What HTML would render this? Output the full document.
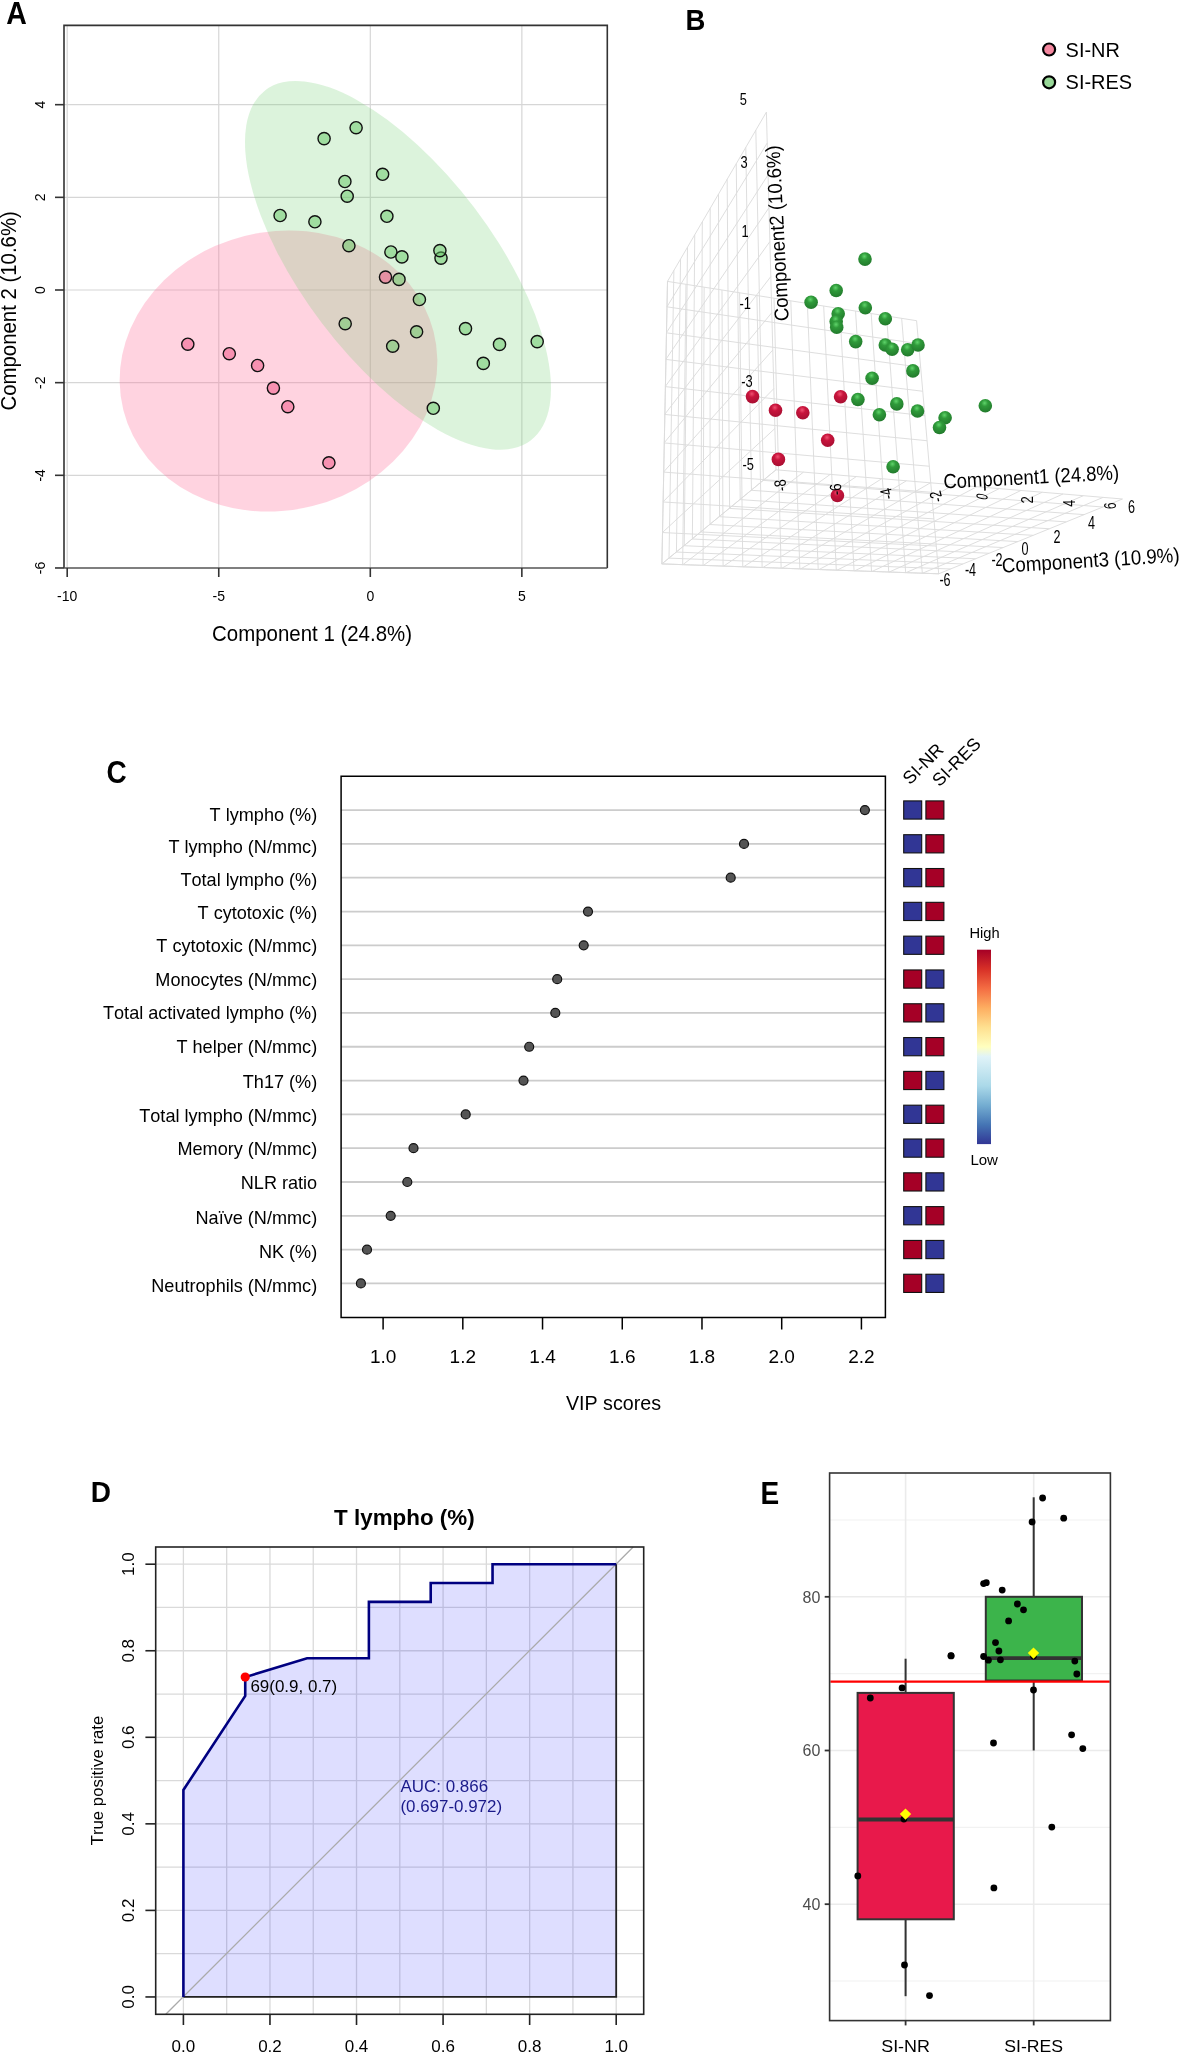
<!DOCTYPE html>
<html><head><meta charset="utf-8"><style>
html,body{margin:0;padding:0;background:#fff;overflow:hidden}
svg{display:block;will-change:transform}
text{font-family:"Liberation Sans", sans-serif;font-kerning:none;font-feature-settings:"kern" 0, "liga" 0}
</style></head><body>
<svg width="1181" height="2053" viewBox="0 0 1181 2053">
<rect width="1181" height="2053" fill="#fff"/>
<text font-size="28.5" font-weight="bold" transform="translate(6.3 24.1) scale(1 1.1)">A</text>
<path d="M67.2 25.4V568M218.75 25.4V568M370.3 25.4V568M521.85 25.4V568M64 104.68H607.3M64 197.34H607.3M64 290H607.3M64 382.66H607.3M64 475.32H607.3" stroke="#d6d6d6" stroke-width="1.2" fill="none"/>
<ellipse cx="278.5" cy="371" rx="160" ry="139.3" transform="rotate(-14.1 278.5 371)" fill="rgb(255,120,160)" fill-opacity="0.33"/>
<ellipse cx="398" cy="265.3" rx="219.7" ry="95.6" transform="rotate(52.85 398 265.3)" fill="rgb(120,210,120)" fill-opacity="0.26"/>
<path d="M64 568V25.4H607.3V568" stroke="#333" stroke-width="1.6" fill="none"/>
<line x1="64" y1="568" x2="607.3" y2="568" stroke="#555" stroke-width="1.6" />
<line x1="55" y1="104.68" x2="64" y2="104.68" stroke="#333" stroke-width="1.6" />
<text x="45.4" y="104.68" font-size="14" text-anchor="middle" transform="rotate(-90 45.4 104.68)" >4</text>
<line x1="55" y1="197.34" x2="64" y2="197.34" stroke="#333" stroke-width="1.6" />
<text x="45.4" y="197.34" font-size="14" text-anchor="middle" transform="rotate(-90 45.4 197.34)" >2</text>
<line x1="55" y1="290" x2="64" y2="290" stroke="#333" stroke-width="1.6" />
<text x="45.4" y="290" font-size="14" text-anchor="middle" transform="rotate(-90 45.4 290)" >0</text>
<line x1="55" y1="382.66" x2="64" y2="382.66" stroke="#333" stroke-width="1.6" />
<text x="45.4" y="382.66" font-size="14" text-anchor="middle" transform="rotate(-90 45.4 382.66)" >-2</text>
<line x1="55" y1="475.32" x2="64" y2="475.32" stroke="#333" stroke-width="1.6" />
<text x="45.4" y="475.32" font-size="14" text-anchor="middle" transform="rotate(-90 45.4 475.32)" >-4</text>
<line x1="55" y1="567.98" x2="64" y2="567.98" stroke="#333" stroke-width="1.6" />
<text x="45.4" y="567.98" font-size="14" text-anchor="middle" transform="rotate(-90 45.4 567.98)" >-6</text>
<line x1="67.2" y1="568" x2="67.2" y2="577" stroke="#333" stroke-width="1.6" />
<text x="67.2" y="600.7" font-size="14" text-anchor="middle" >-10</text>
<line x1="218.75" y1="568" x2="218.75" y2="577" stroke="#333" stroke-width="1.6" />
<text x="218.75" y="600.7" font-size="14" text-anchor="middle" >-5</text>
<line x1="370.3" y1="568" x2="370.3" y2="577" stroke="#333" stroke-width="1.6" />
<text x="370.3" y="600.7" font-size="14" text-anchor="middle" >0</text>
<line x1="521.85" y1="568" x2="521.85" y2="577" stroke="#333" stroke-width="1.6" />
<text x="521.85" y="600.7" font-size="14" text-anchor="middle" >5</text>
<circle cx="356.1" cy="127.7" r="6.1" fill="rgb(100,200,100)" fill-opacity="0.5" stroke="#111" stroke-width="1.4"/>
<circle cx="324.1" cy="138.6" r="6.1" fill="rgb(100,200,100)" fill-opacity="0.5" stroke="#111" stroke-width="1.4"/>
<circle cx="382.6" cy="174.3" r="6.1" fill="rgb(100,200,100)" fill-opacity="0.5" stroke="#111" stroke-width="1.4"/>
<circle cx="344.9" cy="181.5" r="6.1" fill="rgb(100,200,100)" fill-opacity="0.5" stroke="#111" stroke-width="1.4"/>
<circle cx="347.2" cy="196.2" r="6.1" fill="rgb(100,200,100)" fill-opacity="0.5" stroke="#111" stroke-width="1.4"/>
<circle cx="280.1" cy="215.5" r="6.1" fill="rgb(100,200,100)" fill-opacity="0.5" stroke="#111" stroke-width="1.4"/>
<circle cx="314.9" cy="221.8" r="6.1" fill="rgb(100,200,100)" fill-opacity="0.5" stroke="#111" stroke-width="1.4"/>
<circle cx="386.9" cy="216.3" r="6.1" fill="rgb(100,200,100)" fill-opacity="0.5" stroke="#111" stroke-width="1.4"/>
<circle cx="348.9" cy="245.7" r="6.1" fill="rgb(100,200,100)" fill-opacity="0.5" stroke="#111" stroke-width="1.4"/>
<circle cx="390.9" cy="252" r="6.1" fill="rgb(100,200,100)" fill-opacity="0.5" stroke="#111" stroke-width="1.4"/>
<circle cx="401.9" cy="256.9" r="6.1" fill="rgb(100,200,100)" fill-opacity="0.5" stroke="#111" stroke-width="1.4"/>
<circle cx="441" cy="258.1" r="6.1" fill="rgb(100,200,100)" fill-opacity="0.5" stroke="#111" stroke-width="1.4"/>
<circle cx="439.9" cy="250.6" r="6.1" fill="rgb(100,200,100)" fill-opacity="0.5" stroke="#111" stroke-width="1.4"/>
<circle cx="399" cy="279.4" r="6.1" fill="rgb(100,200,100)" fill-opacity="0.5" stroke="#111" stroke-width="1.4"/>
<circle cx="419.4" cy="299.5" r="6.1" fill="rgb(100,200,100)" fill-opacity="0.5" stroke="#111" stroke-width="1.4"/>
<circle cx="345.2" cy="323.7" r="6.1" fill="rgb(100,200,100)" fill-opacity="0.5" stroke="#111" stroke-width="1.4"/>
<circle cx="416.6" cy="331.8" r="6.1" fill="rgb(100,200,100)" fill-opacity="0.5" stroke="#111" stroke-width="1.4"/>
<circle cx="465.5" cy="328.6" r="6.1" fill="rgb(100,200,100)" fill-opacity="0.5" stroke="#111" stroke-width="1.4"/>
<circle cx="392.7" cy="346.2" r="6.1" fill="rgb(100,200,100)" fill-opacity="0.5" stroke="#111" stroke-width="1.4"/>
<circle cx="499.5" cy="344.4" r="6.1" fill="rgb(100,200,100)" fill-opacity="0.5" stroke="#111" stroke-width="1.4"/>
<circle cx="537.2" cy="341.6" r="6.1" fill="rgb(100,200,100)" fill-opacity="0.5" stroke="#111" stroke-width="1.4"/>
<circle cx="483.3" cy="363.4" r="6.1" fill="rgb(100,200,100)" fill-opacity="0.5" stroke="#111" stroke-width="1.4"/>
<circle cx="433.3" cy="408.3" r="6.1" fill="rgb(100,200,100)" fill-opacity="0.5" stroke="#111" stroke-width="1.4"/>
<circle cx="385.5" cy="277.1" r="6.1" fill="rgb(240,80,130)" fill-opacity="0.5" stroke="#111" stroke-width="1.4"/>
<circle cx="187.8" cy="344.2" r="6.1" fill="rgb(240,80,130)" fill-opacity="0.5" stroke="#111" stroke-width="1.4"/>
<circle cx="229.3" cy="353.7" r="6.1" fill="rgb(240,80,130)" fill-opacity="0.5" stroke="#111" stroke-width="1.4"/>
<circle cx="257.6" cy="365.5" r="6.1" fill="rgb(240,80,130)" fill-opacity="0.5" stroke="#111" stroke-width="1.4"/>
<circle cx="273.4" cy="388.1" r="6.1" fill="rgb(240,80,130)" fill-opacity="0.5" stroke="#111" stroke-width="1.4"/>
<circle cx="287.8" cy="406.7" r="6.1" fill="rgb(240,80,130)" fill-opacity="0.5" stroke="#111" stroke-width="1.4"/>
<circle cx="328.9" cy="462.8" r="6.1" fill="rgb(240,80,130)" fill-opacity="0.5" stroke="#111" stroke-width="1.4"/>
<text x="212.1" y="640.7" font-size="21.5" textLength="199.9" lengthAdjust="spacingAndGlyphs" >Component 1 (24.8%)</text>
<text x="15.5" y="410.5" font-size="21.5" textLength="199.3" lengthAdjust="spacingAndGlyphs" transform="rotate(-90 15.5 410.5)" >Component 2 (10.6%)</text>
<text font-size="27.5" font-weight="bold" transform="translate(685.6 29.5) scale(1 1.1)">B</text>
<path d="M661.9 563.9L667.5 281.4M669 558.05L673.89 270.46M676.43 551.92L680.55 259.06M684.22 545.49L687.49 247.18M692.39 538.75L694.73 234.78M700.99 531.67L702.3 221.83M710.03 524.21L710.21 208.29M719.55 516.36L718.48 194.12M729.6 508.07L727.16 179.28M740.21 499.31L736.25 163.71M751.45 490.05L745.8 147.37M763.36 480.23L755.83 130.19M776 469.8L766.4 112.1M661.9 563.9L776 469.8M662.52 532.45L774.89 428.5M663.13 501.78L773.82 388.6M663.72 471.87L772.79 350.02M664.3 442.68L771.78 312.7M664.87 414.19L770.81 276.58M665.42 386.37L769.88 241.61M665.96 359.21L768.97 207.72M666.48 332.67L768.08 174.87M667 306.74L767.23 143.01M667.5 281.4L766.4 112.1M661.9 563.9L667.5 281.4M682.66 564.64L685.96 284.31M703.06 565.37L704.13 287.18M723.09 566.09L722.01 290M742.78 566.79L739.61 292.78M762.13 567.48L756.94 295.51M781.15 568.16L774.01 298.2M799.84 568.83L790.82 300.86M818.22 569.49L807.37 303.47M836.29 570.14L823.68 306.04M854.07 570.77L839.74 308.57M871.55 571.4L855.56 311.07M888.75 572.01L871.16 313.53M905.67 572.62L886.53 315.96M922.32 573.21L901.67 318.34M938.7 573.8L916.6 320.7M661.9 563.9L938.7 573.8M662.52 532.56L936.28 546.04M663.13 501.97L933.9 518.88M663.72 472.1L931.58 492.28M664.3 442.94L929.31 466.24M664.86 414.45L927.08 440.74M665.41 386.62L924.9 415.75M665.95 359.42L922.76 391.27M666.48 332.83L920.67 367.28M667 306.83L918.61 343.76M667.5 281.4L916.6 320.7M661.9 563.9L776 469.8M682.89 564.65L803.49 472.12M703.47 565.39L830.25 474.37M723.66 566.11L856.3 476.57M743.46 566.82L881.66 478.7M762.88 567.51L906.38 480.79M781.94 568.19L930.47 482.82M800.65 568.86L953.95 484.8M819.02 569.52L976.84 486.73M837.05 570.16L999.18 488.61M854.76 570.8L1020.98 490.44M872.14 571.42L1042.25 492.24M889.23 572.03L1063.03 493.99M906.01 572.63L1083.31 495.7M922.5 573.22L1103.13 497.37M938.7 573.8L1122.5 499M661.9 563.9L938.7 573.8M668.91 558.12L950.52 568.99M676.26 552.06L962.85 563.97M683.98 545.69L975.7 558.74M692.1 538.99L989.13 553.28M700.65 531.94L1003.16 547.57M709.66 524.51L1017.84 541.59M719.18 516.66L1033.22 535.33M729.24 508.37L1049.34 528.77M739.89 499.58L1066.27 521.88M751.19 490.26L1084.06 514.64M763.21 480.35L1102.78 507.03M776 469.8L1122.5 499" stroke="#dcdcdc" stroke-width="0.95" fill="none"/>
<circle cx="1049.1" cy="49.5" r="6" fill="#f4879f" stroke="#000" stroke-width="2.2"/>
<circle cx="1049.1" cy="82.3" r="6" fill="#98d898" stroke="#000" stroke-width="2.2"/>
<text x="1065.6" y="56.9" font-size="20" textLength="54.3" lengthAdjust="spacingAndGlyphs" >SI-NR</text>
<text x="1065.6" y="88.9" font-size="20" textLength="66.5" lengthAdjust="spacingAndGlyphs" >SI-RES</text>
<text font-size="16.5" text-anchor="middle" transform="translate(743.2 98.7) scale(0.78 1)" y="5.9">5</text>
<text font-size="16.5" text-anchor="middle" transform="translate(744 162.4) scale(0.78 1)" y="5.9">3</text>
<text font-size="16.5" text-anchor="middle" transform="translate(745 231) scale(0.78 1)" y="5.9">1</text>
<text font-size="16.5" text-anchor="middle" transform="translate(745.2 303.2) scale(0.78 1)" y="5.9">-1</text>
<text font-size="16.5" text-anchor="middle" transform="translate(747 381.2) scale(0.78 1)" y="5.9">-3</text>
<text font-size="16.5" text-anchor="middle" transform="translate(748.2 464) scale(0.78 1)" y="5.9">-5</text>
<text font-size="18" text-anchor="middle" transform="translate(945 580) scale(0.7 1)" y="6.4">-6</text>
<text font-size="18" text-anchor="middle" transform="translate(970.5 570) scale(0.7 1)" y="6.4">-4</text>
<text font-size="18" text-anchor="middle" transform="translate(997 560) scale(0.7 1)" y="6.4">-2</text>
<text font-size="18" text-anchor="middle" transform="translate(1025 548.5) scale(0.7 1)" y="6.4">0</text>
<text font-size="18" text-anchor="middle" transform="translate(1057 537) scale(0.7 1)" y="6.4">2</text>
<text font-size="18" text-anchor="middle" transform="translate(1091.5 523) scale(0.7 1)" y="6.4">4</text>
<text font-size="18" text-anchor="middle" transform="translate(1131.4 507) scale(0.7 1)" y="6.4">6</text>
<text font-size="20" transform="translate(788.7 320.8) rotate(-93)" textLength="176" lengthAdjust="spacingAndGlyphs">Component2 (10.6%)</text>
<text font-size="20.5" transform="translate(943.7 488.6) rotate(-3)" textLength="176" lengthAdjust="spacingAndGlyphs">Component1 (24.8%)</text>
<text font-size="20.5" transform="translate(1002.3 572.7) rotate(-3.5)" textLength="178" lengthAdjust="spacingAndGlyphs">Component3 (10.9%)</text>
<defs><radialGradient id="sg" cx="0.45" cy="0.3" r="0.7"><stop offset="0" stop-color="#5fd46a"/><stop offset="0.35" stop-color="#2f9a3a"/><stop offset="1" stop-color="#227a2c"/></radialGradient><radialGradient id="sr" cx="0.45" cy="0.3" r="0.7"><stop offset="0" stop-color="#f05070"/><stop offset="0.35" stop-color="#c8143c"/><stop offset="1" stop-color="#a80f32"/></radialGradient></defs>
<circle cx="865" cy="259.1" r="6.8" fill="url(#sg)"/>
<circle cx="836.2" cy="290.5" r="6.8" fill="url(#sg)"/>
<circle cx="811.1" cy="302.2" r="6.8" fill="url(#sg)"/>
<circle cx="865.3" cy="307.7" r="6.8" fill="url(#sg)"/>
<circle cx="838.2" cy="313.7" r="6.8" fill="url(#sg)"/>
<circle cx="836.2" cy="321.6" r="6.8" fill="url(#sg)"/>
<circle cx="836.7" cy="327.2" r="6.8" fill="url(#sg)"/>
<circle cx="885.3" cy="318.7" r="6.8" fill="url(#sg)"/>
<circle cx="855.7" cy="341.6" r="6.8" fill="url(#sg)"/>
<circle cx="885.3" cy="345" r="6.8" fill="url(#sg)"/>
<circle cx="892.1" cy="349.2" r="6.8" fill="url(#sg)"/>
<circle cx="907.7" cy="349.7" r="6.8" fill="url(#sg)"/>
<circle cx="918" cy="345" r="6.8" fill="url(#sg)"/>
<circle cx="912.9" cy="370.9" r="6.8" fill="url(#sg)"/>
<circle cx="872.1" cy="378.2" r="6.8" fill="url(#sg)"/>
<circle cx="857.9" cy="399.5" r="6.8" fill="url(#sg)"/>
<circle cx="896.8" cy="403.9" r="6.8" fill="url(#sg)"/>
<circle cx="917.5" cy="411" r="6.8" fill="url(#sg)"/>
<circle cx="879.4" cy="414.8" r="6.8" fill="url(#sg)"/>
<circle cx="945.1" cy="417.8" r="6.8" fill="url(#sg)"/>
<circle cx="939.5" cy="427.5" r="6.8" fill="url(#sg)"/>
<circle cx="985.3" cy="405.8" r="6.8" fill="url(#sg)"/>
<circle cx="893.1" cy="466.7" r="6.8" fill="url(#sg)"/>
<circle cx="752.5" cy="396.6" r="6.8" fill="url(#sr)"/>
<circle cx="775.5" cy="410.3" r="6.8" fill="url(#sr)"/>
<circle cx="802.8" cy="412.7" r="6.8" fill="url(#sr)"/>
<circle cx="840.6" cy="396.7" r="6.8" fill="url(#sr)"/>
<circle cx="827.7" cy="440.2" r="6.8" fill="url(#sr)"/>
<circle cx="778.4" cy="459.4" r="6.8" fill="url(#sr)"/>
<circle cx="837.4" cy="495.5" r="6.8" fill="url(#sr)"/>
<text font-size="16.5" text-anchor="middle" transform="translate(780.2 485.5) rotate(-98) scale(0.8 1)" y="6">-8</text>
<text font-size="16.5" text-anchor="middle" transform="translate(835.3 489.5) rotate(-95) scale(0.8 1)" y="6">-6</text>
<text font-size="16.5" text-anchor="middle" transform="translate(886.4 494) rotate(-104) scale(0.78 1)" y="6">-4</text>
<text font-size="16.5" text-anchor="middle" transform="translate(935.7 496.7) rotate(-104) scale(0.78 1)" y="6">-2</text>
<text font-size="16.5" text-anchor="middle" transform="translate(981.7 496.4) rotate(-78) scale(0.62 1)" y="6">0</text>
<text font-size="16.5" text-anchor="middle" transform="translate(1026.5 499.9) rotate(-90) scale(0.8 1)" y="6">2</text>
<text font-size="16.5" text-anchor="middle" transform="translate(1068.9 503.2) rotate(-90) scale(0.75 1)" y="6">4</text>
<text font-size="16.5" text-anchor="middle" transform="translate(1110.2 505.9) rotate(-90) scale(0.75 1)" y="6">6</text>
<text font-size="28" font-weight="bold" transform="translate(106.4 782.6) scale(1 1.12)">C</text>
<path d="M341.1 810.1H885.4M341.1 843.91H885.4M341.1 877.72H885.4M341.1 911.53H885.4M341.1 945.34H885.4M341.1 979.15H885.4M341.1 1012.96H885.4M341.1 1046.77H885.4M341.1 1080.58H885.4M341.1 1114.39H885.4M341.1 1148.2H885.4M341.1 1182.01H885.4M341.1 1215.82H885.4M341.1 1249.63H885.4M341.1 1283.44H885.4" stroke="#cccccc" stroke-width="1.8" fill="none"/>
<path d="M341.1 776.3V1317.5H885.4V776.3Z" stroke="#000" stroke-width="1.5" fill="none"/>
<text x="317.2" y="820.6" font-size="18.1" text-anchor="end" >T lympho (%)</text>
<circle cx="864.9" cy="810.1" r="4.5" fill="#555" stroke="#111" stroke-width="1.2"/>
<rect x="903.7" y="800.9" width="18" height="18.2" fill="#313695" stroke="#111" stroke-width="1.1"/>
<rect x="925.9" y="800.9" width="18" height="18.2" fill="#a50026" stroke="#111" stroke-width="1.1"/>
<text x="317.2" y="853.2" font-size="18.1" text-anchor="end" >T lympho (N/mmc)</text>
<circle cx="744" cy="843.91" r="4.5" fill="#555" stroke="#111" stroke-width="1.2"/>
<rect x="903.7" y="834.71" width="18" height="18.2" fill="#313695" stroke="#111" stroke-width="1.1"/>
<rect x="925.9" y="834.71" width="18" height="18.2" fill="#a50026" stroke="#111" stroke-width="1.1"/>
<text x="317.2" y="885.7" font-size="18.1" text-anchor="end" >Total lympho (%)</text>
<circle cx="730.7" cy="877.72" r="4.5" fill="#555" stroke="#111" stroke-width="1.2"/>
<rect x="903.7" y="868.52" width="18" height="18.2" fill="#313695" stroke="#111" stroke-width="1.1"/>
<rect x="925.9" y="868.52" width="18" height="18.2" fill="#a50026" stroke="#111" stroke-width="1.1"/>
<text x="317.2" y="918.6" font-size="18.1" text-anchor="end" >T cytotoxic (%)</text>
<circle cx="588" cy="911.53" r="4.5" fill="#555" stroke="#111" stroke-width="1.2"/>
<rect x="903.7" y="902.33" width="18" height="18.2" fill="#313695" stroke="#111" stroke-width="1.1"/>
<rect x="925.9" y="902.33" width="18" height="18.2" fill="#a50026" stroke="#111" stroke-width="1.1"/>
<text x="317.2" y="952.1" font-size="18.1" text-anchor="end" >T cytotoxic (N/mmc)</text>
<circle cx="583.7" cy="945.34" r="4.5" fill="#555" stroke="#111" stroke-width="1.2"/>
<rect x="903.7" y="936.14" width="18" height="18.2" fill="#313695" stroke="#111" stroke-width="1.1"/>
<rect x="925.9" y="936.14" width="18" height="18.2" fill="#a50026" stroke="#111" stroke-width="1.1"/>
<text x="317.2" y="985.6" font-size="18.1" text-anchor="end" >Monocytes (N/mmc)</text>
<circle cx="557.2" cy="979.15" r="4.5" fill="#555" stroke="#111" stroke-width="1.2"/>
<rect x="903.7" y="969.95" width="18" height="18.2" fill="#a50026" stroke="#111" stroke-width="1.1"/>
<rect x="925.9" y="969.95" width="18" height="18.2" fill="#313695" stroke="#111" stroke-width="1.1"/>
<text x="317.2" y="1019.1" font-size="18.1" text-anchor="end" >Total activated lympho (%)</text>
<circle cx="555.3" cy="1012.96" r="4.5" fill="#555" stroke="#111" stroke-width="1.2"/>
<rect x="903.7" y="1003.76" width="18" height="18.2" fill="#a50026" stroke="#111" stroke-width="1.1"/>
<rect x="925.9" y="1003.76" width="18" height="18.2" fill="#313695" stroke="#111" stroke-width="1.1"/>
<text x="317.2" y="1052.7" font-size="18.1" text-anchor="end" >T helper (N/mmc)</text>
<circle cx="529.2" cy="1046.77" r="4.5" fill="#555" stroke="#111" stroke-width="1.2"/>
<rect x="903.7" y="1037.57" width="18" height="18.2" fill="#313695" stroke="#111" stroke-width="1.1"/>
<rect x="925.9" y="1037.57" width="18" height="18.2" fill="#a50026" stroke="#111" stroke-width="1.1"/>
<text x="317.2" y="1087.5" font-size="18.1" text-anchor="end" >Th17 (%)</text>
<circle cx="523.5" cy="1080.58" r="4.5" fill="#555" stroke="#111" stroke-width="1.2"/>
<rect x="903.7" y="1071.38" width="18" height="18.2" fill="#a50026" stroke="#111" stroke-width="1.1"/>
<rect x="925.9" y="1071.38" width="18" height="18.2" fill="#313695" stroke="#111" stroke-width="1.1"/>
<text x="317.2" y="1121.7" font-size="18.1" text-anchor="end" >Total lympho (N/mmc)</text>
<circle cx="465.7" cy="1114.39" r="4.5" fill="#555" stroke="#111" stroke-width="1.2"/>
<rect x="903.7" y="1105.19" width="18" height="18.2" fill="#313695" stroke="#111" stroke-width="1.1"/>
<rect x="925.9" y="1105.19" width="18" height="18.2" fill="#a50026" stroke="#111" stroke-width="1.1"/>
<text x="317.2" y="1155.2" font-size="18.1" text-anchor="end" >Memory (N/mmc)</text>
<circle cx="413.5" cy="1148.2" r="4.5" fill="#555" stroke="#111" stroke-width="1.2"/>
<rect x="903.7" y="1139" width="18" height="18.2" fill="#313695" stroke="#111" stroke-width="1.1"/>
<rect x="925.9" y="1139" width="18" height="18.2" fill="#a50026" stroke="#111" stroke-width="1.1"/>
<text x="317.2" y="1189.4" font-size="18.1" text-anchor="end" >NLR ratio</text>
<circle cx="407.3" cy="1182.01" r="4.5" fill="#555" stroke="#111" stroke-width="1.2"/>
<rect x="903.7" y="1172.81" width="18" height="18.2" fill="#a50026" stroke="#111" stroke-width="1.1"/>
<rect x="925.9" y="1172.81" width="18" height="18.2" fill="#313695" stroke="#111" stroke-width="1.1"/>
<text x="317.2" y="1223.6" font-size="18.1" text-anchor="end" >Naïve (N/mmc)</text>
<circle cx="390.7" cy="1215.82" r="4.5" fill="#555" stroke="#111" stroke-width="1.2"/>
<rect x="903.7" y="1206.62" width="18" height="18.2" fill="#313695" stroke="#111" stroke-width="1.1"/>
<rect x="925.9" y="1206.62" width="18" height="18.2" fill="#a50026" stroke="#111" stroke-width="1.1"/>
<text x="317.2" y="1257.8" font-size="18.1" text-anchor="end" >NK (%)</text>
<circle cx="367" cy="1249.63" r="4.5" fill="#555" stroke="#111" stroke-width="1.2"/>
<rect x="903.7" y="1240.43" width="18" height="18.2" fill="#a50026" stroke="#111" stroke-width="1.1"/>
<rect x="925.9" y="1240.43" width="18" height="18.2" fill="#313695" stroke="#111" stroke-width="1.1"/>
<text x="317.2" y="1292" font-size="18.1" text-anchor="end" >Neutrophils (N/mmc)</text>
<circle cx="360.9" cy="1283.44" r="4.5" fill="#555" stroke="#111" stroke-width="1.2"/>
<rect x="903.7" y="1274.24" width="18" height="18.2" fill="#a50026" stroke="#111" stroke-width="1.1"/>
<rect x="925.9" y="1274.24" width="18" height="18.2" fill="#313695" stroke="#111" stroke-width="1.1"/>
<line x1="383.1" y1="1317.5" x2="383.1" y2="1329.5" stroke="#000" stroke-width="1.5" />
<text x="383.1" y="1362.9" font-size="19" text-anchor="middle" >1.0</text>
<line x1="462.82" y1="1317.5" x2="462.82" y2="1329.5" stroke="#000" stroke-width="1.5" />
<text x="462.82" y="1362.9" font-size="19" text-anchor="middle" >1.2</text>
<line x1="542.54" y1="1317.5" x2="542.54" y2="1329.5" stroke="#000" stroke-width="1.5" />
<text x="542.54" y="1362.9" font-size="19" text-anchor="middle" >1.4</text>
<line x1="622.26" y1="1317.5" x2="622.26" y2="1329.5" stroke="#000" stroke-width="1.5" />
<text x="622.26" y="1362.9" font-size="19" text-anchor="middle" >1.6</text>
<line x1="701.98" y1="1317.5" x2="701.98" y2="1329.5" stroke="#000" stroke-width="1.5" />
<text x="701.98" y="1362.9" font-size="19" text-anchor="middle" >1.8</text>
<line x1="781.7" y1="1317.5" x2="781.7" y2="1329.5" stroke="#000" stroke-width="1.5" />
<text x="781.7" y="1362.9" font-size="19" text-anchor="middle" >2.0</text>
<line x1="861.42" y1="1317.5" x2="861.42" y2="1329.5" stroke="#000" stroke-width="1.5" />
<text x="861.42" y="1362.9" font-size="19" text-anchor="middle" >2.2</text>
<text x="613.5" y="1409.9" font-size="19.5" text-anchor="middle" textLength="95.1" lengthAdjust="spacingAndGlyphs" >VIP scores</text>
<text font-size="18" transform="translate(910 785.5) rotate(-45)">SI-NR</text>
<text font-size="18" transform="translate(939.5 787.5) rotate(-45)">SI-RES</text>
<defs><linearGradient id="rdylbu" x1="0" y1="0" x2="0" y2="1"><stop offset="0" stop-color="#a50026"/><stop offset="0.1" stop-color="#d73027"/><stop offset="0.2" stop-color="#f46d43"/><stop offset="0.3" stop-color="#fdae61"/><stop offset="0.4" stop-color="#fee090"/><stop offset="0.5" stop-color="#ffffbf"/><stop offset="0.55" stop-color="#e0f3f8"/><stop offset="0.7" stop-color="#abd9e9"/><stop offset="0.8" stop-color="#74add1"/><stop offset="0.9" stop-color="#4575b4"/><stop offset="1" stop-color="#313695"/></linearGradient></defs>
<rect x="977" y="949.7" width="14" height="194.4" fill="url(#rdylbu)"/>
<text x="984.6" y="937.9" font-size="14.5" text-anchor="middle" textLength="30.2" lengthAdjust="spacingAndGlyphs" >High</text>
<text x="984.2" y="1164.5" font-size="14.5" text-anchor="middle" textLength="27.6" lengthAdjust="spacingAndGlyphs" >Low</text>
<text font-size="28" font-weight="bold" transform="translate(90.8 1501.8) scale(1 1.07)">D</text>
<path d="M183.4 1547V2014.3M155.7 1996.95H643.7M226.68 1547V2014.3M155.7 1953.67H643.7M269.96 1547V2014.3M155.7 1910.4H643.7M313.24 1547V2014.3M155.7 1867.12H643.7M356.52 1547V2014.3M155.7 1823.85H643.7M399.8 1547V2014.3M155.7 1780.58H643.7M443.08 1547V2014.3M155.7 1737.3H643.7M486.36 1547V2014.3M155.7 1694.03H643.7M529.64 1547V2014.3M155.7 1650.75H643.7M572.92 1547V2014.3M155.7 1607.47H643.7M616.2 1547V2014.3M155.7 1564.2H643.7" stroke="#dadada" stroke-width="1.3" fill="none"/>
<polygon points="183.4,1996.95 183.4,1789.98 245.23,1695.91 245.23,1677.09 307.06,1658.28 368.89,1658.28 368.89,1601.83 430.71,1601.83 430.71,1583.02 492.54,1583.02 492.54,1564.2 616.2,1564.2 616.2,1996.95" fill="rgb(0,0,255)" fill-opacity="0.13"/>
<line x1="165.8" y1="2014.3" x2="633.2" y2="1547" stroke="#aaa" stroke-width="1.3" />
<path d="M183.4 1996.95H616.2V1564.2" stroke="#222" stroke-width="1.8" fill="none"/>
<polyline points="183.4,1996.95 183.4,1789.98 245.23,1695.91 245.23,1677.09 307.06,1658.28 368.89,1658.28 368.89,1601.83 430.71,1601.83 430.71,1583.02 492.54,1583.02 492.54,1564.2 616.2,1564.2" stroke="#000080" stroke-width="2.6" fill="none" stroke-linejoin="miter"/>
<circle cx="245.23" cy="1677.09" r="4.6" fill="#f00"/>
<text x="250.4" y="1692.4" font-size="17" textLength="86.8" lengthAdjust="spacingAndGlyphs" >69(0.9, 0.7)</text>
<text x="400.4" y="1792.2" font-size="17" fill="#1a1a8a" textLength="87.7" lengthAdjust="spacingAndGlyphs" >AUC: 0.866</text>
<text x="400.4" y="1812.4" font-size="17" fill="#1a1a8a" textLength="101.7" lengthAdjust="spacingAndGlyphs" >(0.697-0.972)</text>
<rect x="155.7" y="1547" width="488" height="467.3" stroke="#222" stroke-width="1.6" fill="none"/>
<line x1="145.4" y1="1996.95" x2="155.7" y2="1996.95" stroke="#222" stroke-width="1.6" />
<text x="133.9" y="1996.95" font-size="17" text-anchor="middle" transform="rotate(-90 133.9 1996.95)" >0.0</text>
<line x1="183.4" y1="2014.3" x2="183.4" y2="2025" stroke="#222" stroke-width="1.6" />
<text x="183.4" y="2052.4" font-size="17" text-anchor="middle" >0.0</text>
<line x1="145.4" y1="1910.4" x2="155.7" y2="1910.4" stroke="#222" stroke-width="1.6" />
<text x="133.9" y="1910.4" font-size="17" text-anchor="middle" transform="rotate(-90 133.9 1910.4)" >0.2</text>
<line x1="269.96" y1="2014.3" x2="269.96" y2="2025" stroke="#222" stroke-width="1.6" />
<text x="269.96" y="2052.4" font-size="17" text-anchor="middle" >0.2</text>
<line x1="145.4" y1="1823.85" x2="155.7" y2="1823.85" stroke="#222" stroke-width="1.6" />
<text x="133.9" y="1823.85" font-size="17" text-anchor="middle" transform="rotate(-90 133.9 1823.85)" >0.4</text>
<line x1="356.52" y1="2014.3" x2="356.52" y2="2025" stroke="#222" stroke-width="1.6" />
<text x="356.52" y="2052.4" font-size="17" text-anchor="middle" >0.4</text>
<line x1="145.4" y1="1737.3" x2="155.7" y2="1737.3" stroke="#222" stroke-width="1.6" />
<text x="133.9" y="1737.3" font-size="17" text-anchor="middle" transform="rotate(-90 133.9 1737.3)" >0.6</text>
<line x1="443.08" y1="2014.3" x2="443.08" y2="2025" stroke="#222" stroke-width="1.6" />
<text x="443.08" y="2052.4" font-size="17" text-anchor="middle" >0.6</text>
<line x1="145.4" y1="1650.75" x2="155.7" y2="1650.75" stroke="#222" stroke-width="1.6" />
<text x="133.9" y="1650.75" font-size="17" text-anchor="middle" transform="rotate(-90 133.9 1650.75)" >0.8</text>
<line x1="529.64" y1="2014.3" x2="529.64" y2="2025" stroke="#222" stroke-width="1.6" />
<text x="529.64" y="2052.4" font-size="17" text-anchor="middle" >0.8</text>
<line x1="145.4" y1="1564.2" x2="155.7" y2="1564.2" stroke="#222" stroke-width="1.6" />
<text x="133.9" y="1564.2" font-size="17" text-anchor="middle" transform="rotate(-90 133.9 1564.2)" >1.0</text>
<line x1="616.2" y1="2014.3" x2="616.2" y2="2025" stroke="#222" stroke-width="1.6" />
<text x="616.2" y="2052.4" font-size="17" text-anchor="middle" >1.0</text>
<text x="103" y="1780.5" font-size="17" text-anchor="middle" textLength="129.7" lengthAdjust="spacingAndGlyphs" transform="rotate(-90 103 1780.5)" >True positive rate</text>
<text x="404.4" y="1525.2" font-size="22.4" text-anchor="middle" font-weight="bold" textLength="140.6" lengthAdjust="spacingAndGlyphs" >T lympho (%)</text>
<text font-size="28" font-weight="bold" transform="translate(760.6 1503.5) scale(1 1.1)">E</text>
<path d="M829.6 1519.95H1110.4M829.6 1673.65H1110.4M829.6 1827.35H1110.4M829.6 1981.05H1110.4" stroke="#f2f2f2" stroke-width="1.1" fill="none"/>
<path d="M829.6 1596.8H1110.4M829.6 1750.5H1110.4M829.6 1904.2H1110.4M905.6 1473V2020.6M1033.7 1473V2020.6" stroke="#ebebeb" stroke-width="1.6" fill="none"/>
<line x1="905.6" y1="1658.7" x2="905.6" y2="1692.9" stroke="#333" stroke-width="2" />
<line x1="905.6" y1="1919.3" x2="905.6" y2="1996.2" stroke="#333" stroke-width="2" />
<line x1="1033.7" y1="1497.3" x2="1033.7" y2="1596.8" stroke="#333" stroke-width="2" />
<line x1="1033.7" y1="1680.5" x2="1033.7" y2="1750.5" stroke="#333" stroke-width="2" />
<rect x="857.6" y="1692.9" width="96.2" height="226.4" fill="#e8194b" stroke="#333" stroke-width="2"/>
<rect x="985.8" y="1596.8" width="96.2" height="83.7" fill="#3cb44b" stroke="#333" stroke-width="2"/>
<line x1="857.6" y1="1819.5" x2="953.8" y2="1819.5" stroke="#333" stroke-width="3.8" />
<line x1="985.8" y1="1658.2" x2="1082" y2="1658.2" stroke="#333" stroke-width="3.8" />
<line x1="830.4" y1="1681.6" x2="1109.7" y2="1681.6" stroke="#ff0000" stroke-width="2.2" />
<circle cx="1042.6" cy="1498" r="3.4" fill="#000"/>
<circle cx="1032.1" cy="1522" r="3.4" fill="#000"/>
<circle cx="1063.7" cy="1518.2" r="3.4" fill="#000"/>
<circle cx="983.6" cy="1583.6" r="3.4" fill="#000"/>
<circle cx="986.3" cy="1582.7" r="3.4" fill="#000"/>
<circle cx="1002.2" cy="1590.1" r="3.4" fill="#000"/>
<circle cx="1017.4" cy="1604" r="3.4" fill="#000"/>
<circle cx="1023.5" cy="1609.8" r="3.4" fill="#000"/>
<circle cx="1008.6" cy="1620.9" r="3.4" fill="#000"/>
<circle cx="995.5" cy="1642.6" r="3.4" fill="#000"/>
<circle cx="998.9" cy="1651" r="3.4" fill="#000"/>
<circle cx="951.1" cy="1655.9" r="3.4" fill="#000"/>
<circle cx="983.6" cy="1656.5" r="3.4" fill="#000"/>
<circle cx="988.4" cy="1660.2" r="3.4" fill="#000"/>
<circle cx="1000.4" cy="1659.8" r="3.4" fill="#000"/>
<circle cx="1033.5" cy="1656.1" r="3.4" fill="#000"/>
<circle cx="1074.8" cy="1661.1" r="3.4" fill="#000"/>
<circle cx="1076.8" cy="1674" r="3.4" fill="#000"/>
<circle cx="1033.5" cy="1690" r="3.4" fill="#000"/>
<circle cx="993.5" cy="1743" r="3.4" fill="#000"/>
<circle cx="1071.6" cy="1734.8" r="3.4" fill="#000"/>
<circle cx="1082.8" cy="1748.6" r="3.4" fill="#000"/>
<circle cx="1051.8" cy="1827.1" r="3.4" fill="#000"/>
<circle cx="993.9" cy="1887.9" r="3.4" fill="#000"/>
<circle cx="951" cy="1655.7" r="3.4" fill="#000"/>
<circle cx="902.1" cy="1687.9" r="3.4" fill="#000"/>
<circle cx="870.3" cy="1698" r="3.4" fill="#000"/>
<circle cx="903.9" cy="1819.1" r="3.4" fill="#000"/>
<circle cx="857.8" cy="1875.9" r="3.4" fill="#000"/>
<circle cx="904.5" cy="1965" r="3.4" fill="#000"/>
<circle cx="929.5" cy="1995.6" r="3.4" fill="#000"/>
<path d="M905.5 1808.4l5.7 5.7l-5.7 5.7l-5.7 -5.7z" fill="#ffff00"/>
<path d="M1033.5 1647.4l5.7 5.7l-5.7 5.7l-5.7 -5.7z" fill="#ffff00"/>
<rect x="829.6" y="1473" width="280.8" height="547.6" stroke="#333" stroke-width="1.6" fill="none"/>
<line x1="824.7" y1="1596.8" x2="829.6" y2="1596.8" stroke="#333" stroke-width="1.8" />
<text x="820.4" y="1602.6" font-size="16" text-anchor="end" fill="#4d4d4d" >80</text>
<line x1="824.7" y1="1750.5" x2="829.6" y2="1750.5" stroke="#333" stroke-width="1.8" />
<text x="820.4" y="1756.3" font-size="16" text-anchor="end" fill="#4d4d4d" >60</text>
<line x1="824.7" y1="1904.2" x2="829.6" y2="1904.2" stroke="#333" stroke-width="1.8" />
<text x="820.4" y="1910" font-size="16" text-anchor="end" fill="#4d4d4d" >40</text>
<line x1="905.6" y1="2020.6" x2="905.6" y2="2025.4" stroke="#333" stroke-width="1.8" />
<text x="905.6" y="2052.2" font-size="17" text-anchor="middle" textLength="48.8" lengthAdjust="spacingAndGlyphs" >SI-NR</text>
<line x1="1033.7" y1="2020.6" x2="1033.7" y2="2025.4" stroke="#333" stroke-width="1.8" />
<text x="1033.7" y="2052.2" font-size="17" text-anchor="middle" textLength="58.9" lengthAdjust="spacingAndGlyphs" >SI-RES</text>
</svg>
</body></html>
